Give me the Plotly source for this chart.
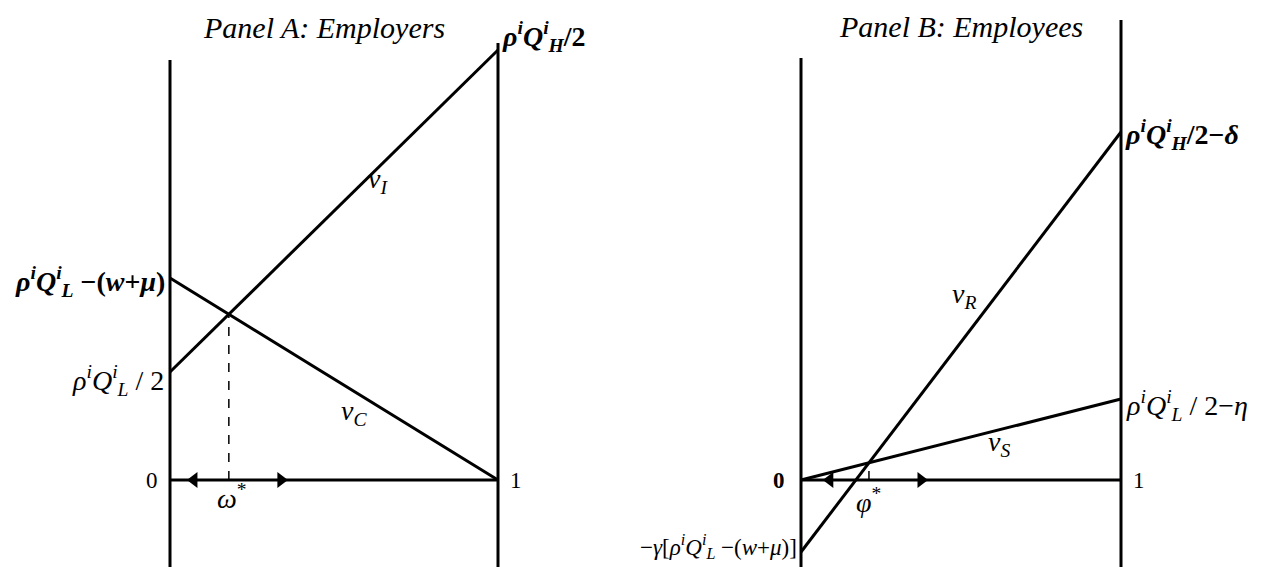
import plotly.graph_objects as go

# Panel A: employers (x runs 0..1 between the two verticals, y in payoff units)
a_x = [0, 1]
a_vI = [108, 430]
a_vC = [202, 0]
a_tops = [420, 437]          # top of left / right vertical
a_arrows = [0.073, 0.338]    # left-pointing, right-pointing

# Panel B: employees
b_x = [0, 1]
b_vR = [-72, 348]
b_vS = [0, 81]
b_tops = [422, 460]
b_arrows = [0.09, 0.375]

y_bottom = -95
FONT = "Liberation Serif"


def cross(x, y1, y2):
    # where two straight lines meet
    s1 = (y1[1] - y1[0]) / (x[1] - x[0])
    s2 = (y2[1] - y2[0]) / (x[1] - x[0])
    xi = x[0] + (y2[0] - y1[0]) / (s1 - s2)
    return xi, y1[0] + s1 * (xi - x[0])


fig = go.Figure()
line = dict(color="black", width=3)

for xa, x, l1, l2, tops, arr in [("x", a_x, a_vI, a_vC, a_tops, a_arrows),
                                 ("x2", b_x, b_vR, b_vS, b_tops, b_arrows)]:
    # verticals and base line
    fig.add_trace(go.Scatter(x=[x[0], x[0]], y=[y_bottom, tops[0]], mode="lines", line=line, xaxis=xa))
    fig.add_trace(go.Scatter(x=[x[1], x[1]], y=[y_bottom, tops[1]], mode="lines", line=line, xaxis=xa))
    fig.add_trace(go.Scatter(x=x, y=[0, 0], mode="lines", line=line, xaxis=xa))
    fig.add_trace(go.Scatter(x=x, y=l1, mode="lines", line=line, xaxis=xa))
    fig.add_trace(go.Scatter(x=x, y=l2, mode="lines", line=line, xaxis=xa))
    xi, yi = cross(x, l1, l2)
    fig.add_trace(go.Scatter(x=[xi, xi], y=[0, yi], mode="lines",
                             line=dict(color="black", width=1.5, dash="dash"), xaxis=xa))
    fig.add_trace(go.Scatter(x=arr, y=[0, 0], mode="markers", xaxis=xa,
                             marker=dict(symbol=["triangle-left", "triangle-right"], size=14, color="black")))

ann = []


def txt(xref, x, y, text, size=28, xanchor="center", xshift=0, yshift=0):
    ann.append(dict(xref=xref, yref="y", x=x, y=y, text=text, showarrow=False,
                    xanchor=xanchor, yanchor="middle", xshift=xshift, yshift=yshift,
                    font=dict(family=FONT, size=size, color="black")))


# Panel A labels
txt("x", 0.47, 453, "<i>Panel A: Employers</i>", size=30)
txt("x", 1, a_vI[1], "<b><i>ρ<sup>i</sup>Q<sup>i</sup><sub>H</sub></i>/2</b>", xanchor="left", xshift=2, yshift=14)
txt("x", 0, a_vC[0], "<b><i>ρ<sup>i</sup>Q<sup>i</sup><sub>L</sub></i> −(<i>w</i>+<i>μ</i>)</b>", xanchor="right", xshift=-3, yshift=-3)
txt("x", 0, a_vI[0], "<i>ρ<sup>i</sup>Q<sup>i</sup><sub>L</sub></i> / 2", xanchor="right", xshift=-4, yshift=-8)
txt("x", 0, 0, "0", size=23, xanchor="right", xshift=-10)
txt("x", 1, 0, "1", size=23, xanchor="left", xshift=10)
txt("x", 0.19, -16, "<i>ω</i><sup>*</sup>")
txt("x", 0.635, 300, "<i>v<sub>I</sub></i>")
txt("x", 0.56, 68, "<i>v<sub>C</sub></i>")

# Panel B labels
txt("x2", 0.5, 454, "<i>Panel B: Employees</i>", size=30)
txt("x2", 1, b_vR[1], "<b><i>ρ<sup>i</sup>Q<sup>i</sup><sub>H</sub></i>/2−<i>δ</i></b>", xanchor="left", xshift=2, yshift=-2)
txt("x2", 1, b_vS[1], "<i>ρ<sup>i</sup>Q<sup>i</sup><sub>L</sub></i> / 2−<i>η</i>", xanchor="left", xshift=3, yshift=-6)
txt("x2", 0, 0, "<b>0</b>", size=23, xanchor="right", xshift=-14)
txt("x2", 1, 0, "1", size=23, xanchor="left", xshift=10)
txt("x2", 0.21, -20, "<i>φ</i><sup>*</sup>")
txt("x2", 0, b_vR[0], "−<i>γ</i>[<i>ρ<sup>i</sup>Q<sup>i</sup><sub>L</sub></i> −(<i>w</i>+<i>μ</i>)]", size=23, xanchor="right", xshift=-2, yshift=6)
txt("x2", 0.51, 185, "<i>v<sub>R</sub></i>")
txt("x2", 0.62, 37, "<i>v<sub>S</sub></i>")

# axis ranges chosen so panel A spans 162..490 px and panel B 793..1113 px
# (the page adds an 8px margin around the plot)
W = 1273
a_ppu = 328
b_ppu = 320
a_left = 162
b_left = 793
fig.update_layout(
    width=W, height=567, margin=dict(l=0, r=0, t=0, b=0),
    paper_bgcolor="white", plot_bgcolor="white", showlegend=False,
    annotations=ann,
    xaxis=dict(domain=[0, 0.5], range=[-a_left / a_ppu, (W / 2 - a_left) / a_ppu], visible=False),
    xaxis2=dict(domain=[0.5, 1], range=[(W / 2 - b_left) / b_ppu, (W - b_left) / b_ppu], visible=False),
    yaxis=dict(range=[y_bottom, 472], visible=False),
)

fig.write_html("out.html")
